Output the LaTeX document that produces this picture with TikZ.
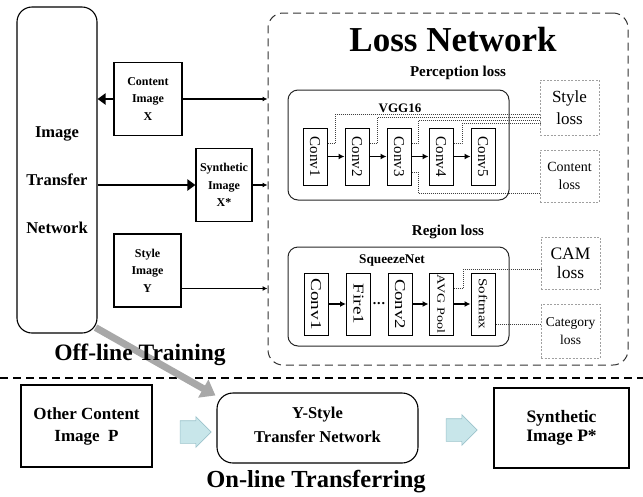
\documentclass[tikz,border=0pt]{standalone}
\usepackage{fontspec}
\setmainfont{Liberation Serif}
\usetikzlibrary{arrows.meta,shapes.arrows}
\newcommand{\setfs}[2]{\fontsize{#1}{#2}\selectfont}
\newcommand{\vlab}[2]{\rotatebox[origin=c]{-90}{\scalebox{#1}[1]{#2}}}
\definecolor{arrowfill}{HTML}{C8E6EA}
\definecolor{arrowedge}{HTML}{9CC3CB}
\definecolor{bigarrow}{HTML}{A8A8A8}
\definecolor{lossedge}{HTML}{A0A0A0}
\begin{document}
\begin{tikzpicture}[x=1pt,y=-1pt,
  txt/.style={inner sep=0pt, align=center},
  imgbox/.style={draw, line width=1.1pt, inner sep=0pt, align=center, font=\bfseries\setfs{12}{17.5}},
  roundbox/.style={draw, line width=1.1pt, rounded corners=15pt, inner sep=0pt},
  netbox/.style={draw=black!85, line width=1pt, rounded corners=10pt, inner sep=0pt},
  layer/.style={draw, line width=1pt, minimum width=24pt, inner sep=0pt},
  lossbox/.style={draw=lossedge, line width=0.8pt, dash pattern=on 2pt off 1.5pt, minimum width=59pt, inner sep=0pt, align=center},
  tap/.style={draw=black!75, line width=0.6pt, dash pattern=on 1pt off 1pt},
  flow/.style={line width=1.2pt, -{Latex[length=6pt,width=6pt]}},
  feed/.style={line width=1.6pt, -{Latex[length=5pt,width=5pt]}},
  bigflow/.style={line width=2.6pt, -{Triangle[length=8pt,width=11pt]}},
  blockarrow/.style={single arrow, draw=arrowedge, fill=arrowfill, line width=0.6pt,
    minimum height=31pt, inner xsep=0pt, inner ysep=11pt, single arrow head extend=4pt}
]
\useasboundingbox (0,0) rectangle (643,496);

% ---------- off-line training ----------
\node[roundbox, minimum width=80pt, minimum height=326pt] (itn) at (57,170) {};
\node[txt, font=\bfseries\setfs{16.5}{48}] (itnlab) at (57,180) {Image\\Transfer\\Network};

\node[imgbox, minimum width=68pt, minimum height=73pt] (cimg) at (148,99) {Content\\Image\\X};
\node[imgbox, minimum width=56pt, minimum height=73pt] (simg) at (224,185) {Synthetic\\Image\\X*};
\node[imgbox, minimum width=67pt, minimum height=73pt] (sty) at (147.5,270.5) {Style\\Image\\Y};

% loss network frame
\node[draw=black!80, line width=1pt, dash pattern=on 8pt off 5pt, rounded corners=15pt,
      minimum width=360pt, minimum height=352pt, inner sep=0pt] (loss) at (448,189) {};
\node[txt, font=\bfseries\setfs{35}{35}] (ltitle) at (453,40) {Loss Network};

\draw[bigflow] (cimg.west) -- (cimg.west -| itn.east);
\draw[feed] (cimg.east) -- (cimg.east -| loss.west);
\draw[bigflow] (simg.west -| itn.east) -- (simg.west);
\draw[feed] (simg.east) -- (simg.east -| loss.west);
\coordinate (styout) at ([shift={(0,18)}]sty.east);
\draw[feed] (styout) -- (styout -| loss.west);

% perception loss
\node[txt, font=\bfseries\setfs{15}{15}] (plab) at (458,73) {Perception loss};
\node[netbox, minimum width=221pt, minimum height=110pt] (vgg) at (398.5,145) {};
\node[txt, font=\bfseries\setfs{13}{13}] (vlab) at (400,108) {VGG16};
\foreach \n/\x in {1/315,2/357,3/399,4/441,5/483}
  \node[layer, minimum height=57pt, font=\setfs{15}{15}] (c\n) at (\x,156.5) {\vlab{1}{Conv\n}};
\foreach \a/\b in {c1/c2,c2/c3,c3/c4,c4/c5}
  \draw[flow] (\a) -- (\b);

\node[lossbox, minimum height=55pt, font=\setfs{17}{22}] (sl) at (569.5,107.5) {Style\\loss};
\node[lossbox, minimum height=52pt, font=\setfs{14}{18}] (cl) at (569.5,176) {Content\\loss};

\foreach \n/\bx/\by in {c1/335/114, c2/377/117, c3/418/120, c4/462/123}{
  \coordinate (bend) at (\bx,\by);
  \draw[tap] ([shift={(0,-13.5)}]\n.east) -| (bend) -- (bend -| sl.west);
}
\coordinate (cbend) at (418,193);
\draw[tap] ([shift={(0,15.5)}]c3.east) -| (cbend) -- (cbend -| cl.west);

% region loss
\node[txt, font=\bfseries\setfs{15}{15}] (rlab) at (448,232) {Region loss};
\node[netbox, minimum width=221pt, minimum height=99pt] (sq) at (398.5,296.5) {};
\node[txt, font=\bfseries\setfs{13.3}{13.3}] (sqlab) at (392,261) {SqueezeNet};
\node[layer, minimum height=62pt, font=\setfs{15}{15}] (s1) at (316,304) {\vlab{1.28}{Conv1}};
\node[layer, minimum height=62pt, font=\setfs{15}{15}] (fire) at (358.5,304) {\vlab{1.28}{Fire1}};
\node[layer, minimum height=62pt, font=\setfs{15}{15}] (s2) at (400,304) {\vlab{1.25}{Conv2}};
\node[layer, minimum height=62pt, font=\setfs{11}{11}] (avg) at (441,304) {\vlab{1.28}{AVG Pool}};
\node[layer, minimum height=62pt, font=\setfs{12}{12}] (sm) at (483,304) {\vlab{1.25}{Softmax}};
\node[txt, font=\bfseries\setfs{14}{14}] (dots) at (379,304) {.\kern0.9pt.\kern0.9pt.};
\draw[flow] (s1) -- (fire);
\draw[flow] (s2) -- (avg);
\draw[flow] (avg) -- (sm);

\node[lossbox, minimum height=52pt, font=\setfs{17.5}{19}] (cam) at (570.5,263) {CAM\\loss};
\node[lossbox, minimum height=54pt, font=\setfs{13.5}{18}] (cat) at (570.5,331) {Category\\loss};

\coordinate (abend) at (463,269);
\draw[tap] ([shift={(0,-16)}]avg.east) -| (abend) -- (abend -| cam.west);
\coordinate (smout) at ([shift={(0,20)}]sm.east);
\draw[tap] (smout) -- (smout -| cat.west);

% ---------- separator ----------
\coordinate (sepL) at (0,378);
\coordinate (sepR) at (643,378);
\draw[line width=1.2pt, dash pattern=on 8pt off 5pt] (sepL) -- (sepR);

% ---------- on-line transferring ----------
\node[draw, line width=1.1pt, minimum width=131pt, minimum height=82pt, inner sep=0pt,
      align=center, font=\bfseries\setfs{17}{22}] (other) at (86.5,426) {Other Content\\Image\ \ P};
\node[roundbox, rounded corners=16pt, minimum width=201pt, minimum height=70pt] (ys) at (317.5,428) {};
\node[txt, font=\bfseries\setfs{16.5}{24}] (yslab) at (317.5,425) {Y-Style\\Transfer Network};
\node[draw, line width=1.1pt, minimum width=135pt, minimum height=80pt, inner sep=0pt,
      align=center, font=\bfseries\setfs{17.5}{19}] (outp) at (561.5,428) {Synthetic\\Image P*};

\node[blockarrow] (ba1) at (190,432) {};
\node[blockarrow] (ba2) at (456,430) {};

% hand-over from training to transfer network
\draw[line width=7pt, draw=bigarrow, -{Triangle[length=14pt,width=20pt]}]
  ([shift={(-2,-6)}]itn.south east) -- ([shift={(-1,3)}]ys.north west);

\node[txt, font=\bfseries\setfs{23.5}{23.5}] (offlab) at (140,355) {Off-line Training};
\node[txt, font=\bfseries\setfs{24.5}{24.5}] (onlab) at (316,482) {On-line Transferring};
\end{tikzpicture}
\end{document}
